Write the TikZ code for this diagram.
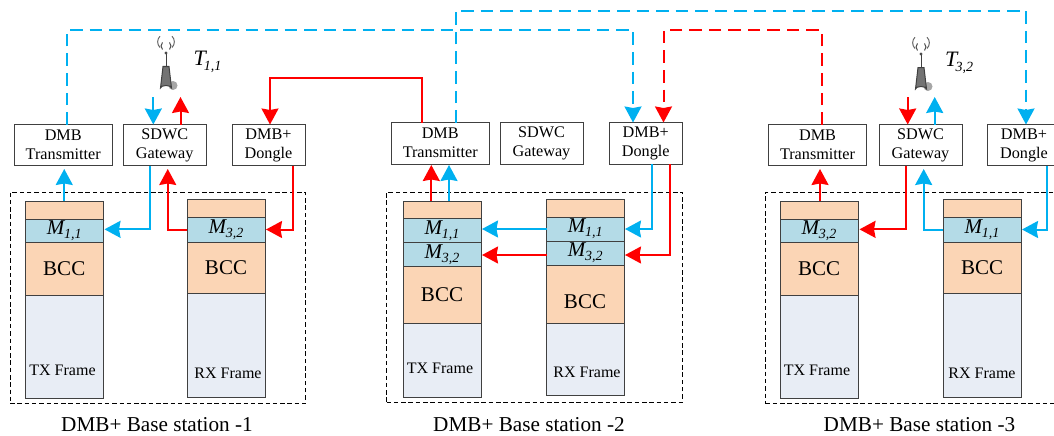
\documentclass[tikz,border=0pt]{standalone}
\usepackage{fontspec}
\setmainfont{Liberation Serif}
\usetikzlibrary{arrows.meta}
\definecolor{cblue}{HTML}{00B0F0}
\definecolor{cred}{HTML}{FF0000}
\definecolor{corange}{HTML}{FBD5B5}
\definecolor{cmid}{HTML}{B4DBE7}
\definecolor{cframe}{HTML}{E8EDF5}
\definecolor{cedge}{HTML}{404040}
\newcommand{\bxn}[7]{\node[#6,minimum width={(#4-#2)*1pt},minimum height={(#5-#3)*1pt}] (#1) at ({(#2+#4)/2},{(#3+#5)/2}) {#7};}
\newcommand{\msub}[2]{{\fontsize{21}{21}\selectfont\itshape #1\kern-0.02em\raisebox{-0.2em}{\fontsize{14}{14}\selectfont #2}}}
\newcommand{\tsub}[2]{{\fontsize{22}{22}\selectfont\itshape #1\kern-0.08em\raisebox{-0.2em}{\fontsize{14}{14}\selectfont #2}}}
\newcommand{\anticon}[2]{%
  \begin{scope}[shift={(#1,#2)}]
    \fill[gray!70] (173,85.5) circle (4.5);
    \draw[black!75,line width=1pt] (166,53) -- (166,68);
    \fill[black!70] (166,53) circle (1.6);
    \draw[black!70,line width=1pt] (162.5,49.5) arc (135:225:5) (169.5,49.5) arc (45:-45:5);
    \draw[black!60,line width=1pt] (160,47.5) arc (135:225:8) (172,47.5) arc (45:-45:8);
    \draw[fill=black!55,draw=black!75,line width=1pt] (163,66.5) -- (169,66.5) -- (171.5,88) arc (0:-180:5.5 and 2.5) -- cycle;
  \end{scope}}
\tikzset{
  hwbox/.style={draw=cedge,fill=white,line width=1pt,inner sep=0pt,outer sep=0pt,align=center,font=\fontsize{16.2}{19}\selectfont},
  layerbox/.style={draw=cedge,line width=1pt,inner sep=0pt,outer sep=0pt},
  layertop/.style={layerbox,fill=corange},
  layermid/.style={layerbox,fill=cmid},
  layerbcc/.style={layerbox,fill=corange,font=\fontsize{21}{21}\selectfont},
  layerfrm/.style={layerbox,fill=cframe},
  tagtext/.style={inner sep=0pt,font=\fontsize{16}{16}\selectfont},
  captext/.style={inner sep=0pt,font=\fontsize{21.2}{21}\selectfont},
  stationbox/.style={draw=black,line width=0.9pt,dash pattern=on 4.5pt off 2.8pt,inner sep=0pt,outer sep=0pt},
  antbox/.style={inner sep=0pt,outer sep=0pt},
  flowline/.style={line width=2pt,-{Stealth[length=16pt,width=17pt,inset=1.5pt]}},
  longdash/.style={line width=2pt,dash pattern=on 12.5pt off 7pt},
  bl/.style={draw=cblue,color=cblue},
  rd/.style={draw=cred,color=cred},
}
\begin{document}
\begin{tikzpicture}[x=1pt,y=-1pt]
\useasboundingbox (0,0) rectangle (1054,436);
\clip (0,0) rectangle (1054,436);
% stations
\bxn{baseA}{10}{192}{305.5}{403.5}{stationbox}{}
\bxn{baseB}{386.5}{192}{682.5}{402}{stationbox}{}
\bxn{baseC}{765.5}{192}{1070}{403.5}{stationbox}{}
% station 1 hardware
\bxn{dmbA}{14.5}{124.5}{112}{165.5}{hwbox}{DMB\\Transmitter}
\bxn{gwA}{123.5}{124.5}{206}{165.5}{hwbox}{SDWC\\Gateway}
\bxn{dngA}{232}{124.5}{305}{165.5}{hwbox}{DMB+\\Dongle}
% station 2 hardware
\bxn{dmbB}{391.5}{122.5}{489}{164}{hwbox}{DMB\\Transmitter}
\bxn{gwB}{500}{122.5}{583}{164}{hwbox}{SDWC\\Gateway}
\bxn{dngB}{609}{122.5}{682.5}{164}{hwbox}{DMB+\\Dongle}
% station 3 hardware
\bxn{dmbC}{768.5}{124.5}{866.5}{165.5}{hwbox}{DMB\\Transmitter}
\bxn{gwC}{879}{124.5}{962}{165.5}{hwbox}{SDWC\\Gateway}
\bxn{dngC}{987.5}{124.5}{1060.5}{165.5}{hwbox}{DMB+\\Dongle}
% station 1 frames
\bxn{txfA}{25.5}{295}{103}{398.5}{layerfrm}{}
\bxn{txbA}{25.5}{242.5}{103}{295}{layerbcc}{BCC}
\bxn{txmA}{25.5}{219}{103}{242.5}{layermid}{\msub{M}{1,1}}
\bxn{txtA}{25.5}{201}{103}{219}{layertop}{}
\bxn{rxfA}{187}{293.5}{265}{397}{layerfrm}{}
\bxn{rxbA}{187}{242}{265}{293.5}{layerbcc}{BCC}
\bxn{rxmA}{187}{217}{265}{242}{layermid}{\msub{M}{3,2}}
\bxn{rxtA}{187}{199.5}{265}{217}{layertop}{}
\node[tagtext] (txlA) at (62.5,370) {TX Frame};
\node[tagtext] (rxlA) at (228,373) {RX Frame};
% station 2 frames
\bxn{txfB}{403}{323.5}{481}{397}{layerfrm}{}
\bxn{txbB}{403}{266.5}{481}{323.5}{layerbcc}{BCC}
\bxn{txmB}{403}{218.5}{481}{242.5}{layermid}{\msub{M}{1,1}}
\bxn{txnB}{403}{242.5}{481}{266.5}{layermid}{\msub{M}{3,2}}
\bxn{txtB}{403}{201}{481}{218.5}{layertop}{}
\bxn{rxfB}{546.5}{323.5}{624}{395.5}{layerfrm}{}
\bxn{rxbB}{546.5}{265}{624}{323.5}{layertop}{}
\node[inner sep=0pt,font=\fontsize{21}{21}\selectfont] (rxcB) at (585,302) {BCC};
\bxn{rxmB}{546.5}{217}{624}{241}{layermid}{\msub{M}{1,1}}
\bxn{rxnB}{546.5}{241}{624}{265}{layermid}{\msub{M}{3,2}}
\bxn{rxtB}{546.5}{199.5}{624}{217}{layertop}{}
\node[tagtext] (txlB) at (440,368) {TX Frame};
\node[tagtext] (rxlB) at (587,372) {RX Frame};
% station 3 frames
\bxn{txfC}{780}{295}{858}{398.5}{layerfrm}{}
\bxn{txbC}{780}{242.5}{858}{295}{layerbcc}{BCC}
\bxn{txmC}{780}{219}{858}{242.5}{layermid}{\msub{M}{3,2}}
\bxn{txtC}{780}{201}{858}{219}{layertop}{}
\bxn{rxfC}{943}{293.5}{1021}{397}{layerfrm}{}
\bxn{rxbC}{943}{242}{1021}{293.5}{layerbcc}{BCC}
\bxn{rxmC}{943}{217}{1021}{242}{layermid}{\msub{M}{1,1}}
\bxn{rxtC}{943}{199.5}{1021}{217}{layertop}{}
\node[tagtext] (txlC) at (817,370) {TX Frame};
\node[tagtext] (rxlC) at (982,373) {RX Frame};
% captions
\node[captext] (capA) at (157,425) {DMB+ Base station -1};
\node[captext] (capB) at (529,425) {DMB+ Base station -2};
\node[captext] (capC) at (919.5,425) {DMB+ Base station -3};
% antennas
\bxn{antA}{146}{46}{186}{97}{antbox}{}
\bxn{antC}{900}{46}{940}{97}{antbox}{}
\anticon{0}{0}
\anticon{755}{1}
\node[inner sep=0pt] (tA) at (207.5,62) {\tsub{T}{1,1}};
\node[inner sep=0pt] (tC) at (959,63) {\tsub{T}{3,2}};
% long links
\draw[flowline,longdash,bl] ([xshift=3.75pt]dmbA.north) -- ++(0,-94.5) -| ([xshift=-12.75pt]dngB.north);
\draw[flowline,longdash,bl] ([xshift=15.25pt]dmbB.north) -- ++(0,-111.5) -| ([xshift=2pt]dngC.north);
\draw[flowline,longdash,rd] ([xshift=4pt]dmbC.north) -- ++(0,-94.5) -| ([xshift=17.75pt]dngB.north);
\draw[flowline,rd] ([xshift=-18.25pt]dmbB.north) -- ++(0,-44.5) -| ([xshift=1.5pt]dngA.north);
% station 1 links
\draw[flowline,bl,shorten >=3.5pt] (txtA.north) -- (dmbA.south -| txtA.north);
\draw[flowline,bl,shorten >=1.5pt] ([xshift=-14.75pt]gwA.south) |- ([yshift=1.4pt]txmA.east);
\draw[flowline,rd,shorten >=3.5pt] (rxmA.west) -| ([xshift=3pt]gwA.south);
\draw[flowline,rd,shorten >=1pt] ([xshift=24.2pt]dngA.south) |- (rxmA.east);
\draw[flowline,bl] ([xshift=-11.45pt]gwA.north |- antA.south) -- ([xshift=-11.45pt]gwA.north);
\draw[flowline,rd] ([xshift=15.75pt]gwA.north) -- ([xshift=15.75pt]gwA.north |- antA.south);
% station 2 links
\draw[flowline,rd,shorten >=1pt] ([xshift=-10.7pt]txtB.north) -- ([xshift=-10.7pt]txtB.north |- dmbB.south);
\draw[flowline,bl,shorten >=1pt] ([xshift=7pt]txtB.north) -- ([xshift=7pt]txtB.north |- dmbB.south);
\draw[flowline,bl,shorten >=1pt] (rxmB.west) -- (rxmB.west -| txmB.east);
\draw[flowline,rd,shorten >=1pt] ([yshift=-2pt]rxnB.west) -- ([yshift=-2pt]rxnB.west -| txnB.east);
\draw[flowline,bl,shorten >=1pt] ([xshift=6.25pt]dngB.south) |- (rxmB.east);
\draw[flowline,rd,shorten >=1pt] ([xshift=24pt]dngB.south) |- ([yshift=-2pt]rxnB.east);
% station 3 links
\draw[flowline,rd,shorten >=3.5pt] ([xshift=1pt]txtC.north) -- ([xshift=1pt]txtC.north |- dmbC.south);
\draw[flowline,rd,shorten >=1.5pt] ([xshift=-14.2pt]gwC.south) |- ([yshift=1.4pt]txmC.east);
\draw[flowline,bl,shorten >=3.5pt] (rxmC.west) -| ([xshift=3.2pt]gwC.south);
\draw[flowline,bl,shorten >=1pt] ([xshift=22.7pt]dngC.south) |- (rxmC.east);
\draw[flowline,rd] ([xshift=-12.8pt]gwC.north |- antC.south) -- ([xshift=-12.8pt]gwC.north);
\draw[flowline,bl] ([xshift=14.2pt]gwC.north) -- ([xshift=14.2pt]gwC.north |- antC.south);
\end{tikzpicture}
\end{document}
